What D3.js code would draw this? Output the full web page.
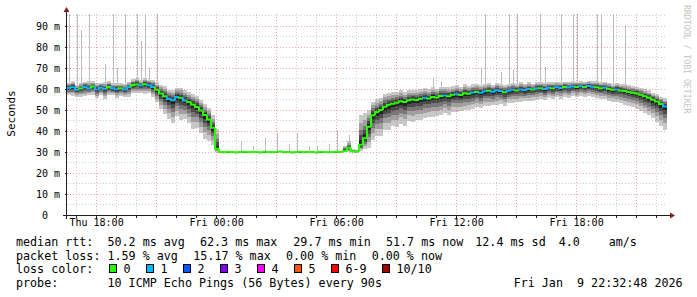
<!DOCTYPE html>
<html>
<head>
<meta charset="utf-8">
<script src="https://cdn.jsdelivr.net/npm/d3@7"></script>
<style>
  html, body { margin: 0; padding: 0; background: #fff; }
  svg { display: block; }
  text { font-family: "DejaVu Sans Mono", monospace; white-space: pre; }
</style>
</head>
<body>
<svg id="chart"></svg>
<script>
const W = 697, H = 297;

// sample start and step (12 minute consolidation)
const startTime = new Date(2026, 0, 8, 16, 32, 48);
const stepMin = 12;

// median rtt in ms per sample
const median = [
  60.5, 60.8, 59.6, 60.2, 61.0, 60.4, 61.2, 59.8, 60.6, 60.1, 60.9, 60.3, 59.9, 60.4, 59.7, 60.8, 61.9, 62.1, 61.6, 62.3, 61.8, 61.0,
  59.6, 57.8, 56.5, 55.2, 54.6, 56.2, 55.8, 54.5, 53.8, 52.6, 51.4, 49.8, 47.6, 45.5, 41.5, 31.5,
  30.0, 29.9, 30.1, 30.0, 29.8, 30.0, 30.1, 29.9, 30.0, 30.0, 29.8, 30.1, 30.0, 29.9, 30.0, 30.2, 29.9, 30.0, 29.7, 30.0, 30.1, 29.9, 30.0, 30.0, 29.8, 30.1, 30.0, 29.9, 30.0, 30.1, 30.0,
  30.5, 32.0, 30.2, 30.1, 33.5, 36.5,
  42.0, 47.5, 49.0, 50.0, 51.5, 52.5, 53.0, 53.5, 54.2, 53.8, 54.6, 55.0, 54.7, 55.3, 55.8, 55.5, 56.2, 56.0, 56.6, 56.9, 56.5, 57.2, 57.5, 57.1, 58.0,
  57.7, 58.3, 58.6, 58.2, 58.9, 59.1, 58.7, 59.4, 59.0, 58.5, 59.2, 59.6, 59.3, 59.8, 59.5, 60.0, 59.7, 60.2, 60.4, 60.0, 60.6, 60.3, 60.8, 60.5, 61.0,
  60.7, 61.2, 60.9, 61.3, 61.0, 61.4, 61.1, 60.8, 60.4, 60.6, 60.0, 59.6, 59.8, 59.3, 59.0, 58.6, 58.2, 57.8, 57.2, 56.5, 55.8, 54.9, 54.0, 52.8, 51.7
];

// smoke extent above / below the median (ms)
const spreadUp = [
  2.5, 3.0, 2.2, 2.8, 2.4, 3.2, 2.6, 2.9, 2.3, 3.1, 2.7, 2.5, 3.0, 2.4, 2.8, 2.6, 2.9, 3.3, 2.7, 3.0, 2.6, 3.4,
  3.5, 4.2, 4.8, 4.5, 5.0, 4.4, 4.9, 5.2, 4.6, 5.0, 5.4, 4.8, 5.2, 5.6, 6.0, 9.5,
  0.4, 0.5, 0.3, 0.4, 0.6, 0.4, 0.3, 0.5, 0.4, 0.4, 0.6, 0.3, 0.4, 0.5, 0.4, 0.3, 0.5, 0.4, 0.6, 0.4, 0.3, 0.5, 0.4, 0.4, 0.6, 0.3, 0.5, 0.4, 0.4, 0.5, 0.4,
  2.5, 3.0, 1.2, 1.0, 14.0, 12.0,
  8.0, 6.5, 6.0, 5.8, 6.2, 5.5, 5.6, 5.0, 5.3, 4.8, 5.1, 4.6, 4.9, 4.5, 4.7, 4.3, 4.6, 4.2, 4.5, 4.0, 4.4, 4.1, 4.3, 3.9, 4.2,
  3.8, 4.0, 3.6, 3.9, 3.5, 3.7, 3.4, 3.6, 3.3, 3.5, 3.2, 3.4, 3.1, 3.3, 3.0, 3.2, 2.9, 3.1, 2.8, 3.0, 2.7, 2.9, 2.6, 2.8, 2.5,
  2.7, 2.4, 2.6, 2.3, 2.5, 2.4, 2.6, 2.8, 2.7, 2.9, 3.0, 2.8, 3.1, 3.0, 3.2, 3.1, 3.3, 3.2, 3.4, 3.3, 3.5, 3.4, 3.6, 3.5, 3.8
];
const spreadDown = [
  3.5, 4.0, 3.2, 3.8, 4.5, 3.4, 3.9, 4.2, 3.6, 4.8, 3.7, 3.3, 4.1, 3.9, 3.5, 4.4, 3.8, 4.0, 3.6, 4.6, 3.9, 5.0,
  6.0, 7.5, 8.5, 9.5, 11.0, 9.0, 10.5, 8.8, 10.0, 11.5, 9.8, 10.8, 11.2, 10.5, 8.0, 1.5,
  0.3, 0.2, 0.3, 0.3, 0.2, 0.3, 0.4, 0.2, 0.3, 0.3, 0.2, 0.3, 0.3, 0.2, 0.3, 0.4, 0.2, 0.3, 0.2, 0.3, 0.3, 0.2, 0.3, 0.3, 0.2, 0.3, 0.3, 0.2, 0.3, 0.3, 0.3,
  0.6, 2.0, 0.4, 0.3, 3.0, 5.0,
  10.0, 12.0, 11.5, 12.5, 11.0, 12.0, 10.5, 11.5, 10.8, 11.2, 10.0, 10.8, 9.5, 10.2, 9.8, 9.0, 9.6, 8.8, 9.2, 8.5, 9.0, 8.2, 8.6, 7.8, 8.2,
  7.5, 7.8, 7.0, 7.4, 6.8, 7.2, 6.5, 6.9, 6.2, 6.6, 5.8, 6.2, 5.6, 5.9, 5.4, 5.8, 5.2, 5.5, 5.0, 5.4, 4.9, 5.2, 4.8, 5.1, 4.7,
  5.0, 4.6, 4.9, 4.5, 4.8, 4.6, 5.0, 5.3, 5.1, 5.6, 5.9, 5.7, 6.2, 6.0, 6.5, 6.8, 6.6, 7.2, 7.5, 7.8, 8.4, 8.8, 9.5, 10.5, 11.0
];

// lost pings per sample (of 10)
const loss = [
  1, 1, 1, 0, 1, 1, 0, 1, 1, 1, 0, 1, 1, 0, 1, 1, 0, 0, 1, 0, 1, 1,
  0, 0, 0, 1, 1, 1, 0, 1, 0, 0, 0, 0, 0, 0, 0, 0,
  0, 0, 0, 0, 0, 0, 0, 0, 0, 0, 0, 0, 0, 0, 0, 0, 0, 0, 0, 0, 0, 0, 0, 0, 0, 0, 0, 0, 0, 0, 0,
  0, 0, 0, 0, 0, 0,
  0, 0, 0, 0, 0, 0, 0, 0, 0, 0, 0, 0, 0, 0, 1, 0, 0, 0, 0, 1, 0, 0, 1, 0, 0,
  0, 1, 0, 1, 1, 0, 1, 1, 1, 0, 1, 1, 0, 1, 1, 1, 0, 1, 0, 1, 1, 0, 1, 1, 0,
  1, 1, 0, 1, 0, 1, 1, 0, 0, 1, 0, 0, 1, 0, 0, 0, 0, 0, 0, 0, 0, 0, 0, 0, 1
];

// single-ping outliers: sample index and value (ms)
const spikeIdx = [0, 2, 3, 5, 9, 11, 12, 14, 17, 18, 19, 20, 22,
  43, 46, 49, 52, 55, 57, 60, 62, 65, 67, 70,
  91, 93, 103, 104, 108, 110, 111, 112, 118, 119, 123, 126, 127, 132, 133, 136, 139];
const spikeVal = [95.7, 95.7, 88, 95.7, 72, 95.7, 70, 95.7, 95.7, 83, 95.7, 70, 95.7,
  35, 33, 36.6, 39, 34, 39, 32.5, 33, 34, 40.5, 38,
  65, 64, 70, 95.7, 68, 95.7, 69, 95.7, 95.7, 70.5, 95.7, 95.7, 95.7, 95.7, 95.7, 95.7, 90];

const lossLabels = ["0", "1", "2", "3", "4", "5", "6-9", "10/10"];
const lossColors = ["#26ff00", "#00b8ff", "#0059ff", "#7e00ff", "#ff00ff", "#ff5500", "#ff0000", "#a10000"];

const rttLegend = ["50.2 ms avg", "62.3 ms max", "29.7 ms min", "51.7 ms now", "12.4 ms sd", "4.0", "am/s"];
const lossLegend = ["1.59 % avg", "15.17 % max", "0.00 % min", "0.00 % now"];
const probeText = "10 ICMP Echo Pings (56 Bytes) every 90s";
const stampText = "Fri Jan  9 22:32:48 2026";

const svg = d3.select("#chart").attr("width", W).attr("height", H);
svg.append("rect").attr("width", W).attr("height", H).attr("fill", "#fff");

const times = median.map((_, i) => d3.timeMinute.offset(startTime, i * stepMin));
const endTime = d3.timeMinute.offset(startTime, median.length * stepMin);

const x = d3.scaleTime().domain([startTime, endTime]).range([67, 667]);
const y = d3.scaleLinear().domain([0, 95.7]).range([215, 14]);

const samples = median.map((m, i) => ({
  i, m, up: spreadUp[i], down: spreadDown[i], loss: loss[i],
  x0: x(times[i]),
  x1: x(d3.timeMinute.offset(times[i], stepMin))
}));

// smoke, outer to inner
const shades = [
  { f: 1.0, c: "#c8c8c8" },
  { f: 0.72, c: "#a0a0a0" },
  { f: 0.5, c: "#767676" },
  { f: 0.32, c: "#4a4a4a" },
  { f: 0.16, c: "#222222" }
];
const smoke = svg.append("g").attr("shape-rendering", "crispEdges");
shades.forEach(s => {
  smoke.append("g")
    .selectAll("rect")
    .data(samples)
    .enter().append("rect")
    .attr("x", d => d.x0)
    .attr("width", d => d.x1 - d.x0)
    .attr("y", d => y(d.m + s.f * d.up))
    .attr("height", d => Math.max(1, y(d.m - s.f * d.down) - y(d.m + s.f * d.up)))
    .attr("fill", s.c);
});

// outliers
smoke.append("g")
  .selectAll("rect")
  .data(spikeIdx.map((k, j) => ({ s: samples[k], v: spikeVal[j] })))
  .enter().append("rect")
  .attr("x", d => Math.round(d.s.x0 + 1.5))
  .attr("width", 1)
  .attr("y", d => y(d.v))
  .attr("height", d => y(d.s.m + d.s.up) - y(d.v))
  .attr("fill", "#bdbdbd");

// median coloured by loss
svg.append("g")
  .selectAll("path")
  .data(samples)
  .enter().append("path")
  .attr("fill", "none")
  .attr("stroke-width", 2)
  .attr("stroke", d => lossColors[d.loss])
  .attr("d", d => {
    const prev = d.i > 0 ? median[d.i - 1] : d.m;
    return `M${d.x0},${y(prev)}V${y(d.m)}H${d.x1}`;
  });

// grid (dotted, drawn over the data like rrdtool)
const grid = svg.append("g").attr("shape-rendering", "crispEdges");
const hours = x.ticks(d3.timeHour.every(1));
grid.selectAll("line.v")
  .data(hours)
  .enter().append("line")
  .attr("x1", d => Math.round(x(d)) + 0.5).attr("x2", d => Math.round(x(d)) + 0.5)
  .attr("y1", 14).attr("y2", 215)
  .attr("stroke-dasharray", "1,2")
  .attr("stroke", d => d.getHours() % 3 === 0 ? "#de5050" : "#8f8f8f")
  .attr("stroke-opacity", d => d.getHours() % 3 === 0 ? 0.5 : 0.45);

const hvals = d3.range(5, 96, 5);
grid.selectAll("line.h")
  .data(hvals)
  .enter().append("line")
  .attr("x1", 67).attr("x2", 667)
  .attr("y1", d => Math.round(y(d)) + 0.5).attr("y2", d => Math.round(y(d)) + 0.5)
  .attr("stroke-dasharray", "1,2")
  .attr("stroke", d => d % 10 === 0 ? "#de5050" : "#8f8f8f")
  .attr("stroke-opacity", d => d % 10 === 0 ? 0.5 : 0.45);

// axes
const axisCol = "#1f1f1f", arrowCol = "#7f1f1f";

const xTicks = svg.append("g")
  .attr("transform", "translate(0,215)")
  .call(d3.axisBottom(x).ticks(d3.timeHour.every(1)).tickSize(3).tickFormat(""));
xTicks.select(".domain").remove();
xTicks.selectAll("line").attr("stroke", axisCol).attr("shape-rendering", "crispEdges");

const xLabels = svg.append("g")
  .attr("transform", "translate(0,215)")
  .call(d3.axisBottom(x)
    .ticks(d3.timeHour.every(6))
    .tickSize(0).tickPadding(4)
    .tickFormat(d3.timeFormat("%a %H:%M")));
xLabels.select(".domain").remove();
xLabels.selectAll("text")
  .attr("font-family", "DejaVu Sans Mono").attr("font-size", "10px").attr("fill", "#000");

const yAxis = svg.append("g")
  .attr("transform", "translate(67,0)")
  .call(d3.axisLeft(y)
    .tickValues(d3.range(0, 91, 10))
    .tickSize(2).tickPadding(5)
    .tickFormat(d => d === 0 ? "0\u00a0\u00a0" : d + " m"));
yAxis.select(".domain").remove();
yAxis.selectAll("line").attr("stroke", axisCol).attr("shape-rendering", "crispEdges");
yAxis.selectAll("text")
  .attr("font-family", "DejaVu Sans Mono").attr("font-size", "10px").attr("fill", "#000");

svg.append("line").attr("x1", 63).attr("x2", 670).attr("y1", 215.5).attr("y2", 215.5)
  .attr("stroke", axisCol).attr("shape-rendering", "crispEdges");
svg.append("line").attr("x1", 66.5).attr("x2", 66.5).attr("y1", 219).attr("y2", 12)
  .attr("stroke", axisCol).attr("shape-rendering", "crispEdges");
svg.append("path").attr("d", "M670,212.5L675,215.5L670,218.5Z").attr("fill", arrowCol);
svg.append("path").attr("d", "M63.5,12L66.5,7L69.5,12Z").attr("fill", arrowCol);

// titles
svg.append("text")
  .attr("transform", "translate(15,113.5) rotate(-90)")
  .attr("text-anchor", "middle")
  .attr("font-size", "11px")
  .text("Seconds");

svg.append("text")
  .attr("transform", "translate(684,5) rotate(90)")
  .attr("font-size", "8.2px")
  .attr("fill", "#c4c4c4")
  .text("RRDTOOL / TOBI OETIKER");

// legend
const leg = svg.append("g").attr("font-size", "11.7px").attr("fill", "#000");
const row = [245.7, 259.5, 273.3, 287.2];

leg.append("text").attr("x", 16).attr("y", row[0]).text("median rtt:");
[107.5, 200, 293.3, 386, 475.3, 558.7, 608.7].forEach((px, k) => {
  leg.append("text").attr("x", px).attr("y", row[0]).text(rttLegend[k]);
});

leg.append("text").attr("x", 16).attr("y", row[1]).text("packet loss:");
[107.5, 193.3, 286, 371.7].forEach((px, k) => {
  leg.append("text").attr("x", px).attr("y", row[1]).text(lossLegend[k]);
});

leg.append("text").attr("x", 16).attr("y", row[2]).text("loss color:");
const boxX = [108.5, 145.5, 182.5, 219.5, 256.5, 293.5, 330.5, 381.5];
lossLabels.forEach((lab, k) => {
  leg.append("rect")
    .attr("x", boxX[k] + 0.5).attr("y", 264.5)
    .attr("width", 7).attr("height", 8)
    .attr("fill", lossColors[k]).attr("stroke", "#000").attr("stroke-width", 1)
    .attr("shape-rendering", "crispEdges");
  leg.append("text").attr("x", boxX[k] + 15).attr("y", row[2]).text(lab);
});

leg.append("text").attr("x", 16).attr("y", row[3]).text("probe:");
leg.append("text").attr("x", 107.5).attr("y", row[3]).text(probeText);
leg.append("text").attr("x", 513.7).attr("y", row[3]).text(stampText);
</script>
</body>
</html>
